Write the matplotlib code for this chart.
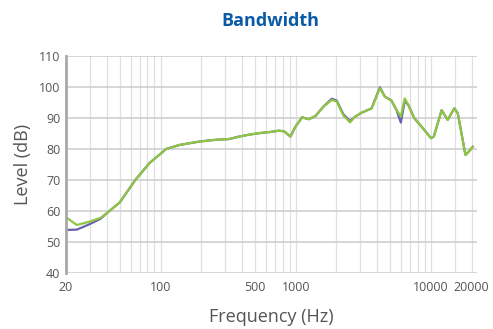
import matplotlib.pyplot as plt
from matplotlib.ticker import FixedLocator, NullFormatter

# frequency points (Hz) and levels (dB)
freq = [20, 24, 30, 36, 40, 50, 65, 83, 110, 138, 194, 260, 321, 381, 450, 535, 650,
        750, 820, 914, 995, 1114, 1248, 1397, 1606, 1848, 2010, 2250, 2520, 2745, 3070,
        3640, 4190, 4560, 5110, 5560, 5990, 6400, 6800, 7540, 8950, 10000, 10500, 12000,
        13300, 14900, 15800, 18000, 19000, 20400]
level_green = [58.0, 55.5, 56.6, 57.8, 59.3, 62.8, 70.0, 75.5, 80.0, 81.3, 82.4, 83.0, 83.2,
               84.0, 84.6, 85.1, 85.5, 85.9, 85.7, 84.0, 87.2, 90.2, 89.6, 90.6, 93.7, 95.8,
               95.3, 90.8, 88.6, 90.4, 91.7, 93.1, 99.6, 96.9, 95.6, 92.6, 90.5, 96.3, 94.2,
               89.9, 86.1, 83.5, 84.0, 92.5, 89.4, 93.1, 91.5, 78.1, 79.1, 80.7]
level_purple = [53.9, 54.0, 55.8, 57.5, 59.3, 62.8, 70.0, 75.5, 80.0, 81.3, 82.4, 83.0, 83.2,
                84.0, 84.6, 85.1, 85.5, 85.9, 85.7, 84.0, 87.2, 90.2, 89.6, 90.6, 93.7, 96.2,
                95.6, 91.2, 89.0, 90.4, 91.7, 93.1, 99.9, 96.9, 95.6, 92.6, 88.5, 95.5, 94.2,
                89.9, 86.1, 83.5, 84.0, 92.5, 89.4, 93.1, 91.5, 78.1, 79.1, 80.7]
xtick_vals = [20, 100, 500, 1000, 10000, 20000]
ytick_vals = [40, 50, 60, 70, 80, 90, 100, 110]

plt.rcParams['font.family'] = ['Open Sans', 'DejaVu Sans']

fig = plt.figure(figsize=(4.93, 3.29), dpi=100)
ax = fig.add_axes([0.134, 0.170, 0.834, 0.660])

ax.plot(freq, level_purple, color='#6a62b0', linewidth=1.6)
ax.plot(freq, level_green, color='#8ec63f', linewidth=1.6)

ax.set_xscale('log')
ax.set_xlim(20, 22000)
ax.set_ylim(40, 110)

minor = [m * 10 ** k for k in (1, 2, 3) for m in range(2, 10)] + [15000]
ax.xaxis.set_major_locator(FixedLocator(xtick_vals))
ax.xaxis.set_minor_locator(FixedLocator([v for v in minor if v >= 20]))
ax.xaxis.set_minor_formatter(NullFormatter())
ax.set_xticklabels([str(v) for v in xtick_vals])
ax.set_yticks(ytick_vals)

ax.grid(True, which='both', axis='x', color='#e0e0e0', linewidth=0.9)
ax.grid(True, which='major', axis='y', color='#cfcfcf', linewidth=1.2)
ax.set_axisbelow(True)

for s in ('top', 'right', 'bottom'):
    ax.spines[s].set_visible(False)
ax.spines['left'].set_color('#a8a8a8')
ax.spines['left'].set_linewidth(2)

ax.tick_params(axis='both', which='both', length=0, labelsize=9, labelcolor='#555555')
ax.tick_params(axis='x', pad=6)
ax.tick_params(axis='y', pad=4)

ax.set_xlabel('Frequency (Hz)', fontsize=13, color='#555555', labelpad=10)
ax.set_ylabel('Level (dB)', fontsize=13, color='#555555', labelpad=5)

fig.text(0.548, 0.936, 'Bandwidth', ha='center', va='center', fontsize=13,
         fontweight='bold', color='#0b5aa6')

fig.savefig('out.png', dpi=100)
